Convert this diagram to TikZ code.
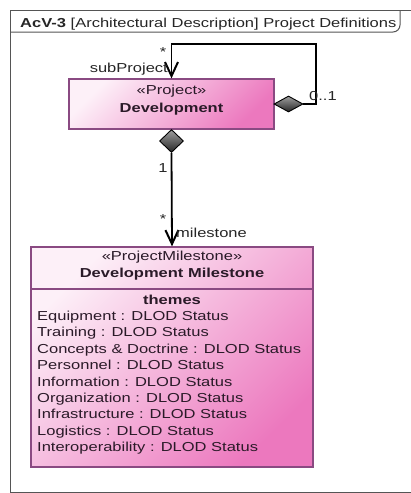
\documentclass[tikz,border=0pt]{standalone}
\usepackage{fontspec}
\setmainfont[FakeStretch=1.27]{Liberation Sans}
\usetikzlibrary{arrows.meta,shapes.geometric}
\definecolor{boxline}{HTML}{8A4A82}
\definecolor{pinklight}{HTML}{FDF0F8}
\definecolor{pinkdark}{HTML}{EC78BE}
\definecolor{txt}{HTML}{2A1A28}
\definecolor{framec}{HTML}{555555}
\begin{document}
\begin{tikzpicture}[x=1pt,y=-1pt,
  font=\fontsize{13}{16.4}\selectfont,
  umlbox/.style={draw=boxline, line width=1.2pt, top color=pinklight, bottom color=pinkdark, shading angle=45, inner sep=0},
  agg/.style={diamond, draw=black, line width=0.9pt, top color=gray!75, bottom color=gray!30!black, inner sep=0},
  conn/.style={line width=1.8pt, black},
  opena/.style={-{Straight Barb[length=14pt,width=13pt,line width=2pt]}},
  lbl/.style={text=black!85, inner sep=0},
  intxt/.style={text=txt, inner sep=0},
  framel/.style={draw=framec, line width=1pt}
]
\useasboundingbox[fill=white] (0,0) rectangle (411,493);
% frame
\draw[framel] (411,10) -- (10,10) -- (10,492) -- (411,492);
\draw[framel] (10,32) [rounded corners=7pt] -- (400,32) -- (400,10);
\node[lbl, anchor=base west] (title) at (20,27) {\textbf{AcV-3} [Architectural Description] Project Definitions};

% Project box
\node[umlbox, minimum width=205pt, minimum height=50pt] (proj) at (171.5,104) {};
\node[intxt, anchor=base] (projst) at (171.5,94.5) {«Project»};
\node[intxt, anchor=base] (projnm) at (171.5,112) {\textbf{Development}};

% Milestone box
\node[umlbox, minimum width=282pt, minimum height=220pt] (ms) at (172,357) {};
\coordinate (sepl) at (31,289);
\coordinate (sepr) at (313,289);
\draw[boxline, line width=1.2pt] (sepl) -- (sepr);
\node[intxt, anchor=base] (msst) at (172,260.5) {«ProjectMilestone»};
\node[intxt, anchor=base] (msnm) at (172,277.5) {\textbf{Development Milestone}};
\node[intxt, anchor=base] (themes) at (172,304.5) {\textbf{themes}};
\foreach \t [count=\i from 0] in {Equipment : DLOD Status, Training : DLOD Status, Concepts \& Doctrine : DLOD Status, Personnel : DLOD Status, Information : DLOD Status, Organization : DLOD Status, Infrastructure : DLOD Status, Logistics : DLOD Status, Interoperability : DLOD Status}
  \node[intxt, anchor=base west] (attr\i) at (37,{320.5+16.4*\i}) {\t};

% diamonds
\node[agg, minimum width=24pt, minimum height=23pt] (dv) at (171.5,141) {};
\node[agg, minimum width=29pt, minimum height=16pt] (dh) at (288.5,104) {};

% self association
\coordinate (loopc) at (316,44);
\draw[conn, opena] (dh.east) -| (loopc) -| (proj.north);
\node[lbl, anchor=base] (m1) at (163,56) {*};
\node[lbl, anchor=base east] (subp) at (168,72) {subProject};
\node[lbl, anchor=base west] (m2) at (309,100) {0..1};

% milestone association
\draw[conn, opena] (dv.south) -- (ms.north);
\node[lbl, anchor=base] (m3) at (163,172) {1};
\node[lbl, anchor=base] (m4) at (163,223) {*};
\node[lbl, anchor=base west] (msl) at (176,237.5) {milestone};
\end{tikzpicture}
\end{document}
